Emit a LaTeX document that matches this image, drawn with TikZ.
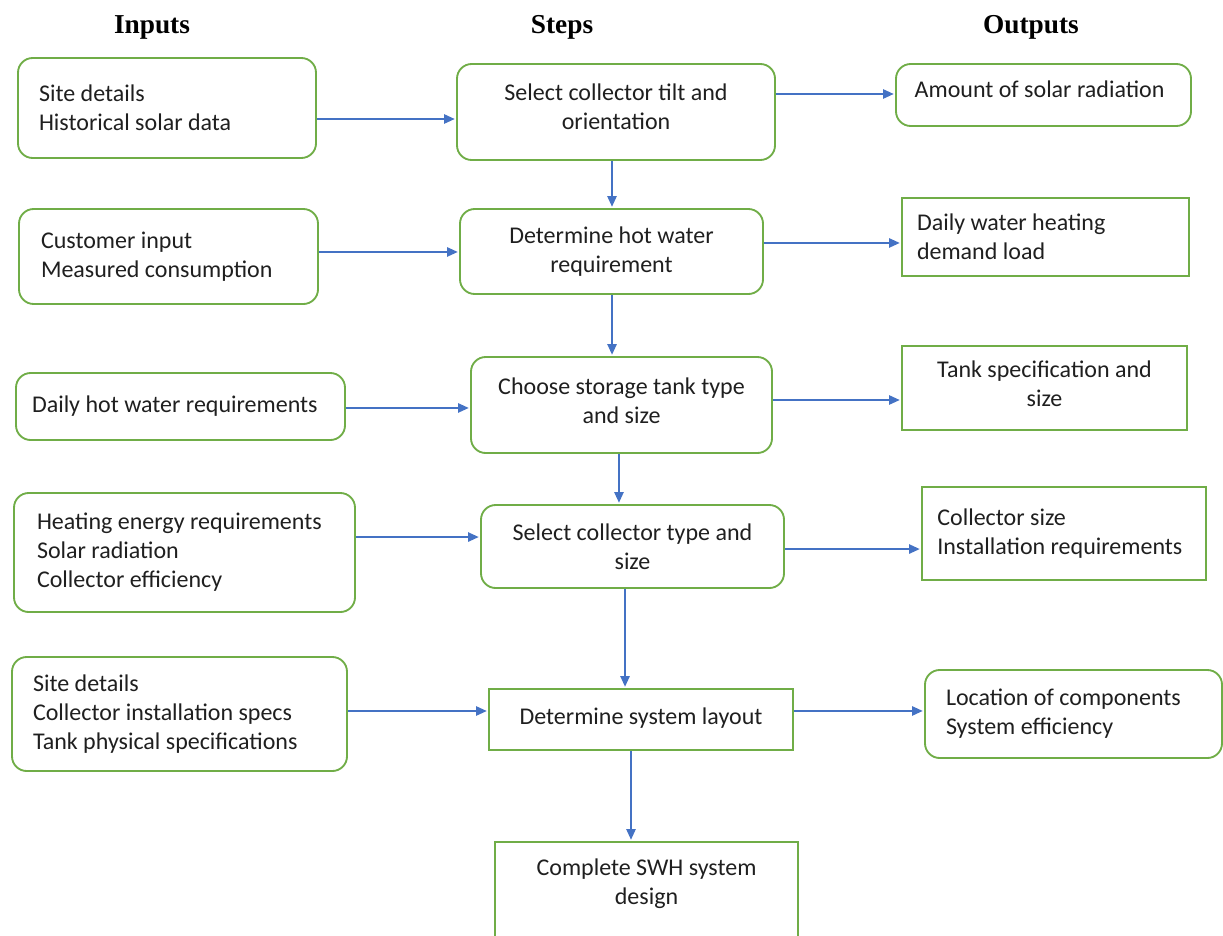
\documentclass[tikz,border=0pt]{standalone}
\usepackage{fontspec}
\setmainfont{Carlito}
\newfontfamily\headfont{Liberation Serif}
\usetikzlibrary{arrows.meta,positioning}
\definecolor{boxgreen}{HTML}{70AD47}
\definecolor{arrowblue}{HTML}{4472C4}
\tikzset{
    %Define standard arrow tip
    >={Triangle[length=8pt,width=7pt]},
    %Define style for rounded boxes
    rbox/.style={
           rectangle,
           rounded corners=11pt,
           draw=boxgreen, line width=1.4pt,
           text=black!88,
           font=\fontsize{18}{21.75}\selectfont},
    %Define style for square boxes
    sbox/.style={
           rbox,
           sharp corners},
    % Define arrow style
    flow/.style={
           ->,
           draw=arrowblue,
           line width=1.2pt,
           shorten >=1pt,},
    % Define style for column titles
    head/.style={
           font=\headfont\bfseries\fontsize{20.5}{24}\selectfont}
}

\begin{document}
\begin{tikzpicture}[x=0.75pt, y=-0.75pt]
        \useasboundingbox (0,0) rectangle (1223,935);
        \clip (0,0) rectangle (1223,935);
        %column titles

        \node[head] (head-inputs) at (152,27) {Inputs};
        \node[head] (head-steps) at (562,27) {Steps};
        \node[head] (head-outputs) at (1031,27) {Outputs};

        %input nodes

        % site details node
        \node[rbox, align=flush left, text width=192pt, inner xsep=15.75pt,
        minimum height=75pt]
        (in-site) at (167,108)
        {Site details\\Historical solar data}
        ;

        % customer input node
        \node[rbox, align=flush left, text width=191.25pt, inner xsep=16.5pt,
        minimum height=71.25pt]
        (in-customer) at (168.5,256.5)
        {Customer input\\Measured consumption}
        ;

        % daily hot water node
        \node[rbox, align=flush left, text width=222.75pt, inner xsep=12pt,
        minimum height=50.25pt]
        (in-daily) at (180.5,406.5)
        {Daily hot water requirements}
        ;

        % heating energy node
        \node[rbox, align=flush left, text width=221.25pt, inner xsep=17.25pt,
        minimum height=89.25pt]
        (in-energy) at (184.5,552.5)
        {Heating energy requirements\\Solar radiation\\Collector efficiency}
        ;

        % installation specs node
        \node[rbox, align=flush left, text width=219.75pt, inner xsep=15.75pt,
        minimum height=85.5pt]
        (in-specs) at (179.5,714)
        {Site details\\Collector installation specs\\Tank physical specifications}
        ;

        %step nodes

        % tilt and orientation node
        \node[rbox, align=flush center, minimum width=238.5pt, minimum height=72pt,
        text depth=8pt]
        (step-tilt) at (616,112)
        {Select collector tilt and\\orientation}
        ;

        % hot water requirement node
        \node[rbox, align=flush center, minimum width=227.25pt, minimum height=63.75pt]
        (step-demand) at (611.5,251.5)
        {Determine hot water\\requirement}
        ;

        % storage tank node
        \node[rbox, align=flush center, minimum width=225.75pt, minimum height=72pt,
        text depth=6pt]
        (step-tank) at (621.5,405)
        {Choose storage tank type\\and size}
        ;

        % collector type node
        \node[rbox, align=flush center, minimum width=227.25pt, minimum height=62.25pt]
        (step-collector) at (632.5,546.5)
        {Select collector type and\\size}
        ;

        % system layout node
        \node[sbox, align=flush center, minimum width=228pt, minimum height=45.75pt,
        text depth=5pt]
        (step-layout) at (641,719.5)
        {Determine system layout}
        ;

        % complete design node
        \node[sbox, align=flush center, minimum width=227.25pt, minimum height=81pt]
        (step-design) at (646.5,896)
        {Complete SWH system\\design\\\mbox{}}
        ;

        %output nodes

        % solar radiation node
        \node[rbox, align=flush left, text width=193.25pt, inner xsep=14pt,
        minimum height=46.5pt, text depth=8pt]
        (out-radiation) at (1043.5,95)
        {Amount of solar radiation}
        ;

        % demand load node
        \node[sbox, align=flush left, text width=192.75pt, inner xsep=11.25pt,
        minimum height=58.5pt]
        (out-load) at (1045.5,237)
        {Daily water heating\\demand load}
        ;

        % tank specification node
        \node[sbox, align=flush center, minimum width=213.75pt, minimum height=63pt,
        text depth=7pt]
        (out-tank) at (1044.5,388)
        {Tank specification and\\size}
        ;

        % collector size node
        \node[sbox, align=flush left, text width=190pt, inner xsep=11.5pt,
        minimum height=69.75pt]
        (out-collector) at (1064,533.5)
        {Collector size\\Installation requirements}
        ;

        % components location node
        \node[rbox, align=flush left, text width=191.25pt, inner xsep=15.75pt,
        minimum height=66pt]
        (out-location) at (1073.5,714)
        {Location of components\\System efficiency}
        ;

        % inputs to steps
        \draw[flow]
        ([yshift=-8.25pt]in-site.east) -- ([yshift=-8.25pt]in-site.east -| step-tilt.west)
        ;
        \draw[flow]
        ([yshift=3.4pt]in-customer.east) -- ([yshift=3.4pt]in-customer.east -| step-demand.west)
        ;
        \draw[flow]
        ([yshift=-1.1pt]in-daily.east) -- ([yshift=-1.1pt]in-daily.east -| step-tank.west)
        ;
        \draw[flow]
        ([yshift=11.6pt]in-energy.east) -- ([yshift=11.6pt]in-energy.east -| step-collector.west)
        ;
        \draw[flow]
        ([yshift=2.25pt]in-specs.east) -- ([yshift=2.25pt]in-specs.east -| step-layout.west)
        ;

        % steps to outputs
        \draw[flow]
        ([yshift=13.5pt]step-tilt.east) -- ([yshift=13.5pt]step-tilt.east -| out-radiation.west)
        ;
        \draw[flow]
        ([yshift=6.4pt]step-demand.east) -- ([yshift=6.4pt]step-demand.east -| out-load.west)
        ;
        \draw[flow]
        ([yshift=3.75pt]step-tank.east) -- ([yshift=3.75pt]step-tank.east -| out-tank.west)
        ;
        \draw[flow]
        ([yshift=-1.9pt]step-collector.east) -- ([yshift=-1.9pt]step-collector.east -| out-collector.west)
        ;
        \draw[flow]
        ([yshift=6.4pt]step-layout.east) -- ([yshift=6.4pt]step-layout.east -| out-location.west)
        ;

        % step to step
        \draw[flow]
        ([xshift=-3pt]step-tilt.south) -- ([xshift=-3pt]step-tilt.south |- step-demand.north)
        ;
        \draw[flow]
        ([xshift=0.4pt]step-demand.south) -- ([xshift=0.4pt]step-demand.south |- step-tank.north)
        ;
        \draw[flow]
        ([xshift=-1.9pt]step-tank.south) -- ([xshift=-1.9pt]step-tank.south |- step-collector.north)
        ;
        \draw[flow]
        ([xshift=-5.6pt]step-collector.south) -- ([xshift=-5.6pt]step-collector.south |- step-layout.north)
        ;
        \draw[flow]
        ([xshift=-7.5pt]step-layout.south) -- ([xshift=-7.5pt]step-layout.south |- step-design.north)
        ;

\end{tikzpicture}
\end{document}
